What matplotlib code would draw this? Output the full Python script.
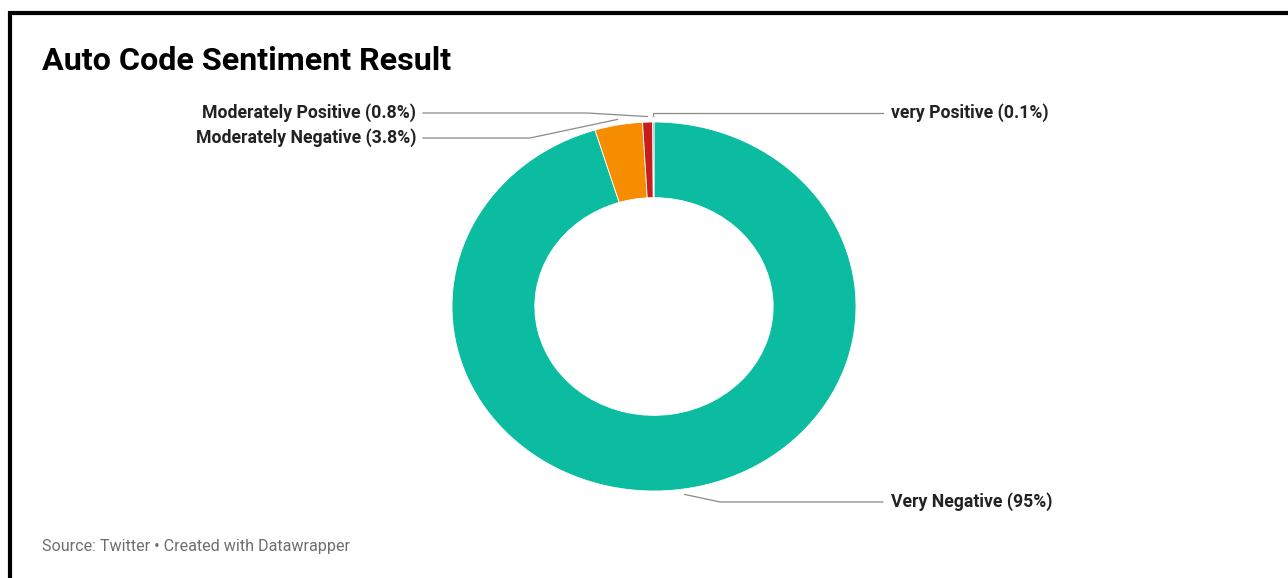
import numpy as np
import matplotlib
matplotlib.use('Agg')
import matplotlib.pyplot as plt
from matplotlib.lines import Line2D

# data (clockwise from 12 o'clock)
categories = ['Very Negative', 'Moderately Negative', 'Moderately Positive', 'very Positive']
values = [95, 3.8, 0.8, 0.1]
value_labels = ['95%', '3.8%', '0.8%', '0.1%']
colors = ['#0bbca1', '#f68d00', '#c71e1d', '#5b7a9a']

W, H = 1288, 578
plt.rcParams['font.family'] = ['Roboto', 'DejaVu Sans']

fig = plt.figure(figsize=(W / 100, H / 100), dpi=100)
fig.patch.set_facecolor('white')


def fx(px):
    return px / W


def fy(py):
    return 1 - py / H


# donut axes, stretched a bit wider than tall like the reference
ax = fig.add_axes([fx(452), fy(491), (856 - 452) / W, (491 - 122) / H])
wedges, _ = ax.pie(values, colors=colors, startangle=90, counterclock=False,
                   radius=1, wedgeprops=dict(width=0.41, edgecolor='white', linewidth=0.6))
ax.set_aspect('auto')
ax.set_xlim(-1, 1)
ax.set_ylim(-1, 1)
ax.axis('off')

# label layout: side, label y (px), elbow (px)
layout = {
    'Very Negative': ('right', 502, (720, 502)),
    'Moderately Negative': ('left', 138, (530, 138)),
    'Moderately Positive': ('left', 113, (587, 113)),
    'very Positive': ('right', 113, None),
}

to_fig = ax.transData + fig.transFigure.inverted()
line_color = '#8a8a8a'
for w, cat, val in zip(wedges, categories, value_labels):
    side, ly, elbow = layout[cat]
    mid = np.deg2rad((w.theta1 + w.theta2) / 2)
    ax_pt = to_fig.transform((1.03 * np.cos(mid), 1.03 * np.sin(mid)))
    if elbow is None:
        elbow_f = (ax_pt[0], fy(ly))
    else:
        elbow_f = (fx(elbow[0]), fy(elbow[1]))
    end_x = fx(883) if side == 'right' else fx(423)
    xs = [ax_pt[0], elbow_f[0], end_x]
    ys = [ax_pt[1], elbow_f[1], fy(ly)]
    fig.add_artist(Line2D(xs, ys, color=line_color, linewidth=0.9,
                          transform=fig.transFigure))
    if side == 'right':
        fig.text(fx(891), fy(ly), f'{cat} ({val})', ha='left', va='center',
                 fontsize=12.7, fontweight='bold', color='#222222')
    else:
        fig.text(fx(416), fy(ly), f'{cat} ({val})', ha='right', va='center',
                 fontsize=12.7, fontweight='bold', color='#222222')

fig.text(fx(42), fy(61), 'Auto Code Sentiment Result', ha='left', va='center',
         fontsize=23.2, fontweight='bold', color='#000000')
fig.text(fx(42), fy(546), 'Source: Twitter \u2022 Created with Datawrapper',
         ha='left', va='center', fontsize=11.6, color='#6e6e6e')

# frame lines at top and left
fig.add_artist(Line2D([fx(8), 1], [fy(13), fy(13)], color='black', linewidth=3,
                      solid_capstyle='butt', transform=fig.transFigure))
fig.add_artist(Line2D([fx(10), fx(10)], [fy(11), 0], color='black', linewidth=3,
                      solid_capstyle='butt', transform=fig.transFigure))

fig.savefig('out.png', dpi=100, facecolor='white')
